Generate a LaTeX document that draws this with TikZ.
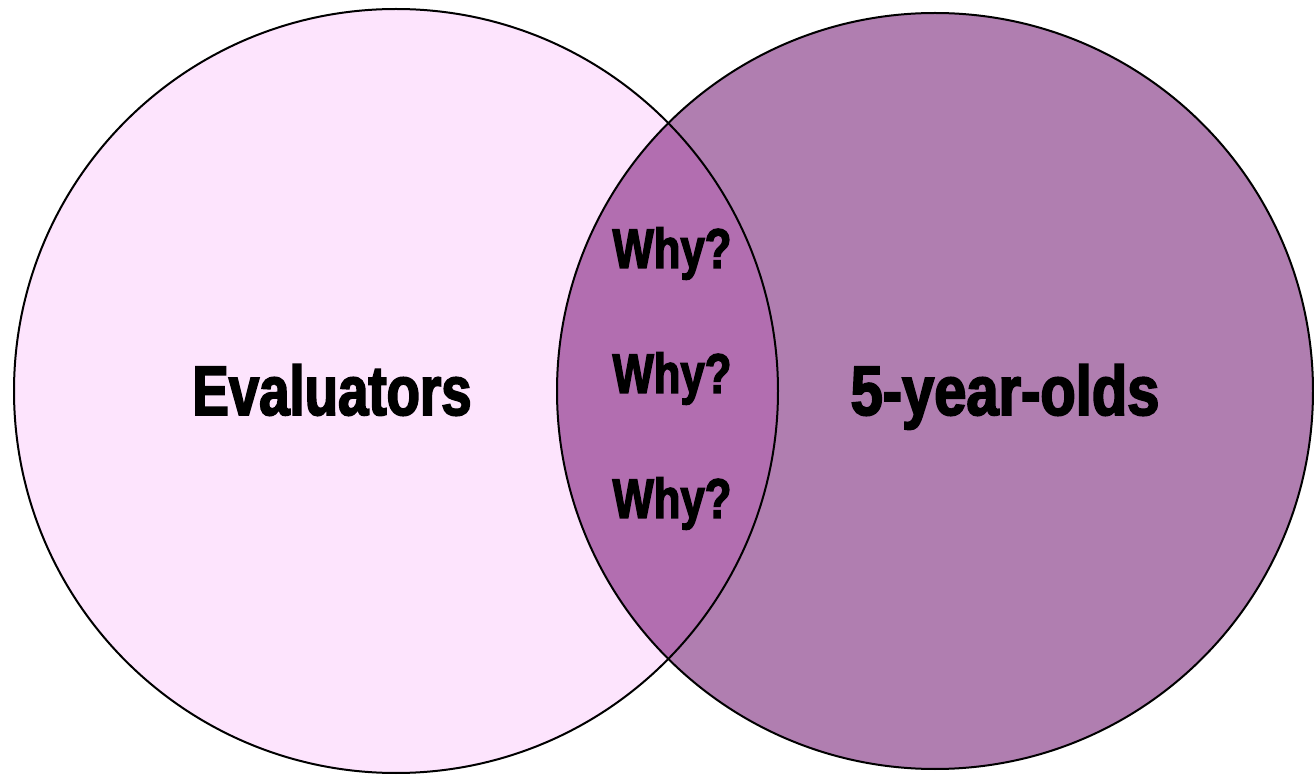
\documentclass[tikz,border=0pt]{standalone}
\usepackage{fontspec}
\newfontfamily\impactfont{Liberation Sans}[FakeStretch=0.78,FakeBold=2.5]
\definecolor{lightpink}{HTML}{FDE4FD}
\definecolor{mauve}{HTML}{B07EB0}
\definecolor{lensmauve}{HTML}{B26EB0}
\tikzset{
  biglabel/.style={font=\impactfont\bfseries\fontsize{35}{35}\selectfont, anchor=base},
  whylabel/.style={font=\impactfont\bfseries\fontsize{28}{28}\selectfont, anchor=base}
}
\begin{document}
\begin{tikzpicture}[x=0.5pt,y=-0.5pt]
    \useasboundingbox (0,0) rectangle (1314,775);
    \coordinate (evalc) at (396,391);
    \coordinate (kidc) at (935,391);
    \fill[lightpink] (evalc) circle [radius=382];
    \fill[mauve] (kidc) circle [radius=378];
    \begin{scope}
      \clip (evalc) circle [radius=382];
      \fill[lensmauve] (kidc) circle [radius=378];
    \end{scope}
    \draw[line width=1pt] (evalc) circle [radius=382];
    \draw[line width=1pt] (kidc) circle [radius=378];
    \node[biglabel] (evaluators) at (332,415) {Evaluators};
    \node[biglabel, xscale=1.06] (fiveyearolds) at (1005,415) {5-year-olds};
    \node[whylabel] (whya) at (672,268) {Why?};
    \node[whylabel] (whyb) at (672,393) {Why?};
    \node[whylabel] (whyc) at (672,518) {Why?};
\end{tikzpicture}
\end{document}
